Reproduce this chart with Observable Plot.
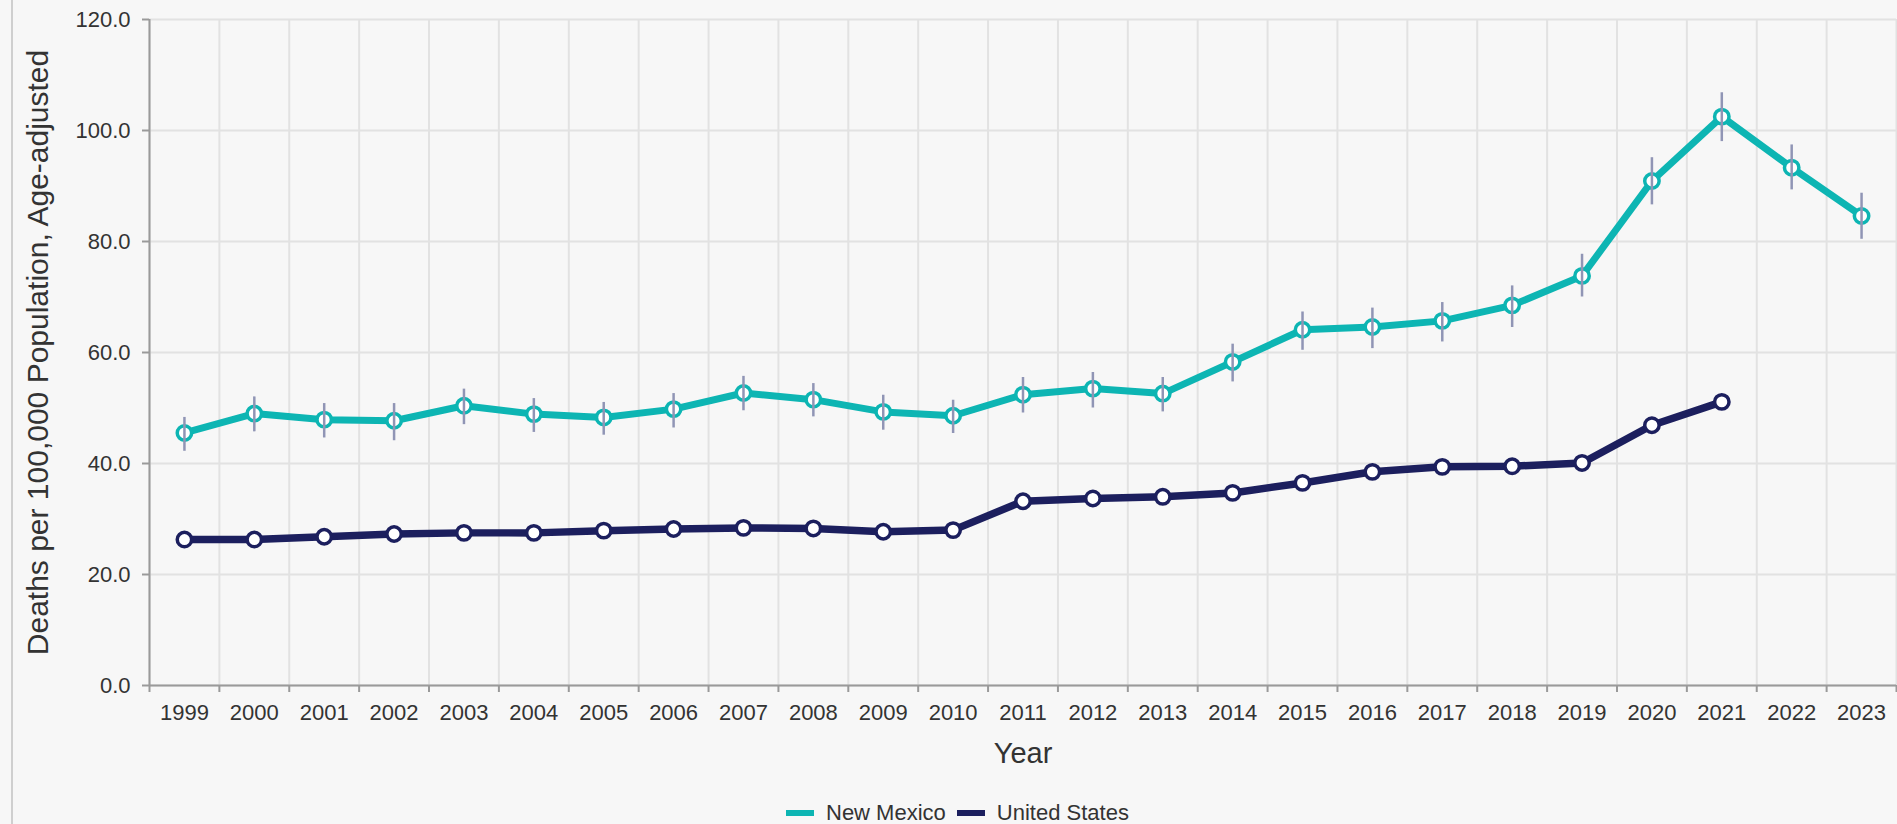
<!DOCTYPE html>
<html><head><meta charset="utf-8">
<script src="https://cdn.jsdelivr.net/npm/d3@7"></script>
<script src="https://cdn.jsdelivr.net/npm/@observablehq/plot@0.6"></script>
<style>
html,body{margin:0;padding:0;background:#f7f7f7;width:1897px;height:824px;overflow:hidden;font-family:"Liberation Sans",Arial,sans-serif;}
#frame{position:absolute;left:11px;top:0;width:2px;height:824px;background:#cfcfcf;}
#chart{position:absolute;left:0;top:0;}
#legend{position:absolute;top:800px;left:786px;display:flex;align-items:center;font-size:22px;color:#333;line-height:26px;white-space:nowrap;}
.sw{display:inline-block;width:28px;height:6px;margin-right:12px;}
.item{display:flex;align-items:center;margin-right:11px;}
</style></head><body>
<div id="frame"></div><div id="chart"></div><div id="legend"></div>
<script>
const years = [1999,2000,2001,2002,2003,2004,2005,2006,2007,2008,2009,2010,2011,2012,2013,2014,2015,2016,2017,2018,2019,2020,2021,2022,2023];
const nmRate  = [45.5,49.0,47.9,47.7,50.4,48.9,48.3,49.8,52.7,51.5,49.3,48.6,52.4,53.5,52.6,58.3,64.1,64.6,65.7,68.5,73.8,90.9,102.5,93.3,84.6];
const nmLower = [42.2,45.7,44.6,44.1,47.0,45.6,45.1,46.4,49.5,48.4,46.0,45.4,49.1,50.0,49.3,54.7,60.4,60.7,61.9,64.5,70.0,86.6,98.0,89.3,80.4];
const nmUpper = [48.3,52.0,50.8,50.8,53.4,51.7,51.0,52.6,55.7,54.4,52.3,51.4,55.5,56.4,55.5,61.5,67.3,68.0,69.0,72.0,77.7,95.1,106.8,97.4,88.7];
const usYears = [1999,2000,2001,2002,2003,2004,2005,2006,2007,2008,2009,2010,2011,2012,2013,2014,2015,2016,2017,2018,2019,2020,2021];
const usRate  = [26.3,26.3,26.8,27.3,27.5,27.5,27.9,28.2,28.4,28.3,27.7,28.0,33.2,33.7,34.0,34.7,36.5,38.5,39.4,39.5,40.1,46.9,51.1];
const yTicks = [0,20,40,60,80,100,120];
const seriesNames = ["New Mexico","United States"];
const seriesColors = ["#0db5b3","#1c1f5e"];
const errorColor = "#9095b5";
const yLabel = "Deaths per 100,000 Population, Age-adjusted";
const xLabel = "Year";

const nm = years.map((year,i)=>({year, rate:nmRate[i], lo:nmLower[i], hi:nmUpper[i]}));
const us = usYears.map((year,i)=>({year, rate:usRate[i]}));
const bounds = [years[0]-0.5, ...years.map(y=>y+0.5)];
const axisColor = "#9a9a9a", gridColor = "#e2e2e2", textColor = "#333";

const chart = Plot.plot({
  width:1897, height:775, marginLeft:149, marginRight:1, marginTop:19, marginBottom:90,
  style:{background:"transparent", fontFamily:"'Liberation Sans', Arial, sans-serif", overflow:"visible"},
  x:{type:"linear", domain:[bounds[0], bounds[bounds.length-1]]},
  y:{domain:[0,120]},
  marks:[
    Plot.gridY(yTicks, {stroke:gridColor, strokeOpacity:1, strokeWidth:2}),
    Plot.gridX(bounds, {stroke:gridColor, strokeOpacity:1, strokeWidth:2}),
    Plot.axisX(bounds, {tickSize:7, tickFormat:()=>"", stroke:axisColor, strokeWidth:2, label:null}),
    Plot.axisX(years, {tickSize:0, tickPadding:19, tickFormat:d=>String(d), fontSize:22, fill:textColor, label:null}),
    Plot.axisY(yTicks, {tickSize:7, tickPadding:12, tickFormat:d=>d.toFixed(1), fontSize:22, fill:textColor, stroke:axisColor, strokeWidth:2, label:null}),
    Plot.ruleX([bounds[0]], {stroke:axisColor, strokeWidth:2}),
    Plot.ruleY([0], {stroke:axisColor, strokeWidth:2}),
    Plot.line(nm, {x:"year", y:"rate", stroke:seriesColors[0], strokeWidth:7}),
    Plot.dot(nm, {x:"year", y:"rate", r:7.2, fill:"white", stroke:seriesColors[0], strokeWidth:3.5}),
    Plot.ruleX(nm, {x:"year", y1:"lo", y2:"hi", stroke:errorColor, strokeWidth:2.5}),
    Plot.line(us, {x:"year", y:"rate", stroke:seriesColors[1], strokeWidth:7.5}),
    Plot.dot(us, {x:"year", y:"rate", r:7.2, fill:"white", stroke:seriesColors[1], strokeWidth:3.5}),
    Plot.text([yLabel], {text:d=>d, frameAnchor:"left", textAnchor:"middle", rotate:-90, dx:-111, fontSize:30, fill:textColor}),
    Plot.text([xLabel], {text:d=>d, frameAnchor:"bottom", textAnchor:"middle", dy:77, fontSize:29, fill:textColor})
  ]
});
document.getElementById("chart").appendChild(chart);

const legend = document.getElementById("legend");
seriesNames.forEach((name,i)=>{
  const item = document.createElement("div"); item.className = "item";
  const sw = document.createElement("span"); sw.className = "sw"; sw.style.background = seriesColors[i];
  const t = document.createElement("span"); t.textContent = name;
  item.appendChild(sw); item.appendChild(t); legend.appendChild(item);
});
</script>
</body></html>
